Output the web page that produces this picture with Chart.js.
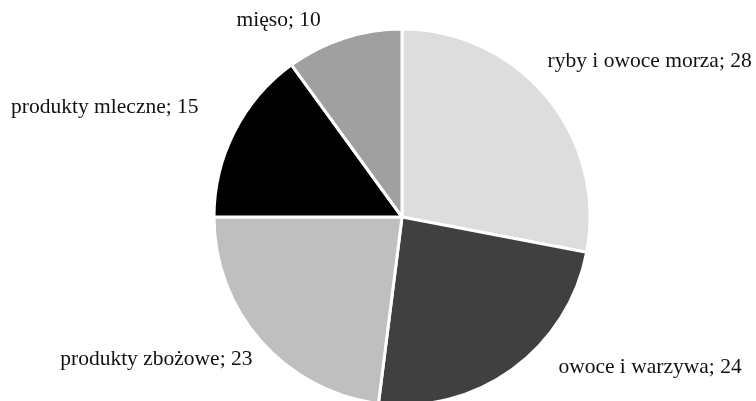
<!DOCTYPE html>
<html>
<head>
<meta charset="utf-8">
<script src="https://cdn.jsdelivr.net/npm/chart.js@4/dist/chart.umd.min.js"></script>
<style>
    html, body { margin: 0; padding: 0; background: #fff; }
    #wrap { width: 756px; height: 401px; }
</style>
</head>
<body>
<div id="wrap"><canvas id="pie"></canvas></div>
<script>
const labels = ['ryby i owoce morza', 'owoce i warzywa', 'produkty zbożowe', 'produkty mleczne', 'mięso'];
const values = [28, 24, 23, 15, 10];
const colors = ['#dddddd', '#404040', '#bfbfbf', '#000000', '#a0a0a0'];

// where each label sits relative to the edge of its slice (Excel "best fit" look)
const labelPlacement = [
    { align: 'left', dx: -7, dy: -29 },
    { align: 'left', dx: 40, dy: -10 },
    { align: 'right', dx: -1, dy: 11 },
    { align: 'right', dx: -27, dy: -20 },
    { align: 'right', dx: -20, dy: -8 }
];

const sliceLabels = {
    id: 'sliceLabels',
    afterDatasetsDraw(chart) {
        const ctx = chart.ctx;
        const meta = chart.getDatasetMeta(0);
        ctx.save();
        ctx.font = '21.5px "Liberation Serif", "Times New Roman", serif';
        ctx.fillStyle = '#111';
        ctx.textBaseline = 'middle';
        meta.data.forEach((arc, i) => {
            const p = arc.getProps(['x', 'y', 'startAngle', 'endAngle', 'outerRadius'], true);
            const mid = (p.startAngle + p.endAngle) / 2;
            const r = p.outerRadius + 10;
            const place = labelPlacement[i];
            ctx.textAlign = place.align;
            const x = p.x + Math.cos(mid) * r + place.dx;
            const y = p.y + Math.sin(mid) * r + place.dy;
            ctx.fillText(labels[i] + '; ' + values[i], x, y);
        });
        ctx.restore();
    }
};

new Chart(document.getElementById('pie'), {
    type: 'pie',
    data: {
        labels: labels,
        datasets: [{
            data: values,
            backgroundColor: colors,
            borderColor: '#ffffff',
            borderWidth: 3,
            radius: 188,
            clip: false
        }]
    },
    options: {
        responsive: true,
        maintainAspectRatio: false,
        animation: false,
        layout: {
            padding: { left: 48, right: 0, top: 33, bottom: 0 }
        },
        plugins: {
            legend: { display: false },
            tooltip: { enabled: false }
        }
    },
    plugins: [sliceLabels]
});
</script>
</body>
</html>
